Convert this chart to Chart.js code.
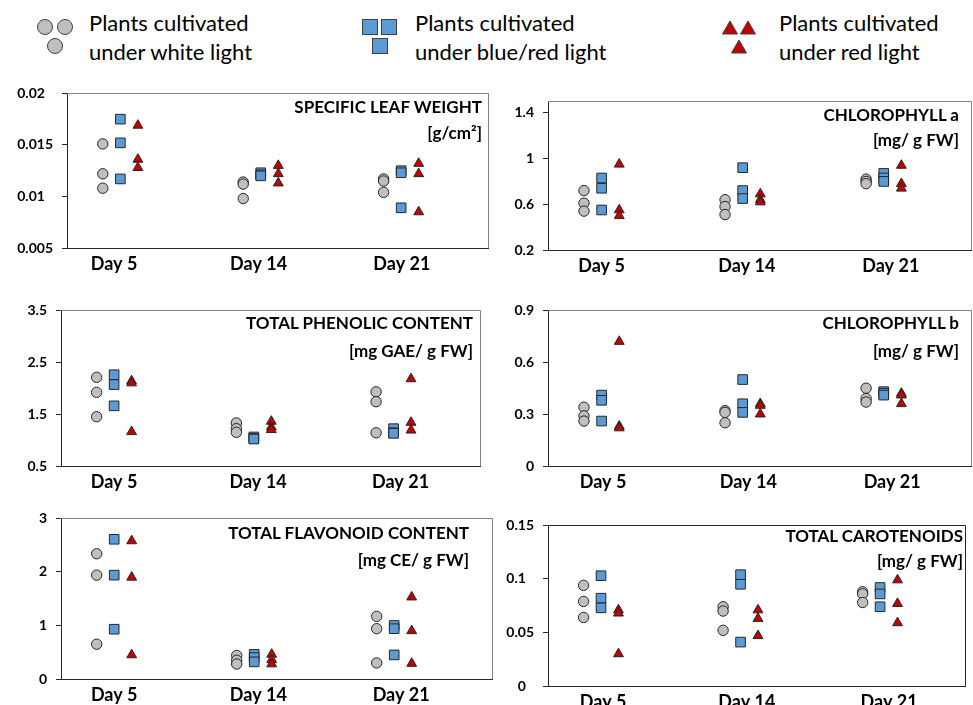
<!DOCTYPE html>
<html>
<head>
<meta charset="utf-8">
<script src="https://cdn.jsdelivr.net/npm/chart.js@4/dist/chart.umd.min.js"></script>
<style>
  html, body { margin: 0; padding: 0; background: #fff; }
  body { width: 973px; height: 705px; position: relative; overflow: hidden; font-family: Lato, "Open Sans", sans-serif; }
  canvas { position: absolute; }
  .ttl { position: absolute; font-weight: bold; font-size: 17px; line-height: 20px; color: #000; white-space: nowrap; text-align: right; }
  .leg { position: absolute; font-size: 22px; line-height: 28px; color: #000; white-space: nowrap; }
  svg.mk { position: absolute; left: 0; top: 0; }
</style>
</head>
<body>
<svg class="mk" width="973" height="70">
  <g stroke="#404040" stroke-width="1">
    <circle cx="45" cy="27" r="7.5" fill="#BFBFBF"/>
    <circle cx="65" cy="27" r="7.5" fill="#BFBFBF"/>
    <circle cx="55" cy="46" r="7.5" fill="#BFBFBF"/>
    <rect x="362.5" y="19.5" width="15" height="15" fill="#5B9BD5"/>
    <rect x="381.5" y="19.5" width="15" height="15" fill="#5B9BD5"/>
    <rect x="372.5" y="38.5" width="15" height="15" fill="#5B9BD5"/>
    <polygon points="730,21 737.5,34 722.5,34" fill="#C00000"/>
    <polygon points="748,21 755.5,34 740.5,34" fill="#C00000"/>
    <polygon points="739,40 746.5,53 731.5,53" fill="#C00000"/>
  </g>
</svg>
<div class="leg" style="left:89px;top:9px">Plants cultivated</div>
<div class="leg" style="left:89px;top:38px">under white light</div>
<div class="leg" style="left:415px;top:9px">Plants cultivated</div>
<div class="leg" style="left:415px;top:38px">under blue/red light</div>
<div class="leg" style="left:779px;top:9px">Plants cultivated</div>
<div class="leg" style="left:779px;top:38px">under red light</div>

<script>
// Sampling days shown on every panel
const days = ['Day 5', 'Day 14', 'Day 21'];
const seriesNames = [
  'Plants cultivated under white light',
  'Plants cultivated under blue/red light',
  'Plants cultivated under red light'
];

// Specific leaf weight [g/cm²] – three replicates per day
const slwWhite = [[0.0151, 0.0122, 0.0108], [0.0114, 0.0112, 0.0098], [0.0117, 0.0115, 0.0104]];
const slwBlue  = [[0.0175, 0.0152, 0.0117], [0.0123, 0.0121, 0.0120], [0.0125, 0.0123, 0.0089]];
const slwRed   = [[0.0169, 0.0136, 0.0128], [0.0130, 0.0122, 0.0113], [0.0132, 0.0122, 0.0085]];
const slwTicks = [0.005, 0.01, 0.015, 0.02];

// Chlorophyll a [mg/ g FW]
const chlaWhite = [[0.72, 0.61, 0.54], [0.64, 0.58, 0.51], [0.82, 0.80, 0.78]];
const chlaBlue  = [[0.83, 0.74, 0.55], [0.92, 0.72, 0.65], [0.87, 0.83, 0.80]];
const chlaRed   = [[0.95, 0.55, 0.50], [0.69, 0.64, 0.62], [0.94, 0.78, 0.74]];
const chlaTicks = [0.2, 0.6, 1, 1.4];

// Total phenolic content [mg GAE/ g FW]
const tpcWhite = [[2.21, 1.92, 1.45], [1.33, 1.22, 1.15], [1.93, 1.74, 1.14]];
const tpcBlue  = [[2.26, 2.07, 1.66], [1.06, 1.03, 1.02], [1.22, 1.14, 1.13]];
const tpcRed   = [[2.14, 2.10, 1.16], [1.36, 1.25, 1.20], [2.18, 1.34, 1.19]];
const tpcTicks = [0.5, 1.5, 2.5, 3.5];

// Chlorophyll b [mg/ g FW]
const chlbWhite = [[0.34, 0.29, 0.26], [0.32, 0.31, 0.25], [0.45, 0.39, 0.37]];
const chlbBlue  = [[0.41, 0.38, 0.26], [0.50, 0.36, 0.31], [0.43, 0.42, 0.41]];
const chlbRed   = [[0.72, 0.23, 0.22], [0.36, 0.35, 0.30], [0.42, 0.41, 0.36]];
const chlbTicks = [0, 0.3, 0.6, 0.9];

// Total flavonoid content [mg CE/ g FW]
const tfcWhite = [[2.34, 1.94, 0.65], [0.44, 0.35, 0.28], [1.17, 0.94, 0.30]];
const tfcBlue  = [[2.61, 1.94, 0.93], [0.46, 0.40, 0.32], [1.00, 0.94, 0.45]];
const tfcRed   = [[2.58, 1.90, 0.45], [0.46, 0.36, 0.28], [1.53, 0.90, 0.29]];
const tfcTicks = [0, 1, 2, 3];

// Total carotenoids [mg/ g FW]
const carWhite = [[0.094, 0.079, 0.064], [0.074, 0.070, 0.052], [0.088, 0.086, 0.078]];
const carBlue  = [[0.103, 0.082, 0.073], [0.104, 0.095, 0.041], [0.092, 0.086, 0.074]];
const carRed   = [[0.071, 0.068, 0.030], [0.071, 0.063, 0.047], [0.099, 0.077, 0.059]];
const carTicks = [0, 0.05, 0.1, 0.15];

// ---- presentation ----
const STYLE = [
  { pointStyle: 'circle',   radius: 5.2, bg: '#BFBFBF' },
  { pointStyle: 'rect',     radius: 6.8, bg: '#5B9BD5' },
  { pointStyle: 'triangle', radius: 5.7, bg: '#C00000' }
];
const X_OFFSET = [-0.125, 0, 0.125];   // side-by-side placement of the three light treatments
const LABEL_AT = [1.0, 2.03, 3.05];    // where the day labels sit on the x scale
const X_MIN = 0.62;
const AXIS = '#262626';

const panels = [
  { title: ['SPECIFIC LEAF WEIGHT', '[g/cm²]'], series: [slwWhite, slwBlue, slwRed], ticks: slwTicks,
    yMin: 0.005, yMax: 0.02, box: { l: 67, t: 86, r: 493, b: 248 }, xMax: 3.62, labelShift: -0.045,
    frame: '#808080', titleRight: 482, titleY: [107, 133] },
  { title: ['CHLOROPHYLL a', '[mg/ g FW]'], series: [chlaWhite, chlaBlue, chlaRed], ticks: chlaTicks,
    yMin: 0.2, yMax: 1.5, box: { l: 548, t: 94, r: 976, b: 250 }, xMax: 3.62, labelShift: 0,
    frame: '#808080', titleRight: 959, titleY: [115, 140] },
  { title: ['TOTAL PHENOLIC CONTENT', '[mg GAE/ g FW]'], series: [tpcWhite, tpcBlue, tpcRed], ticks: tpcTicks,
    yMin: 0.5, yMax: 3.5, box: { l: 61, t: 303, r: 485, b: 466 }, xMax: 3.62, labelShift: 0,
    frame: '#808080', titleRight: 473, titleY: [323, 351] },
  { title: ['CHLOROPHYLL b', '[mg/ g FW]'], series: [chlbWhite, chlbBlue, chlbRed], ticks: chlbTicks,
    yMin: 0, yMax: 0.9, box: { l: 548, t: 303, r: 976, b: 466 }, xMax: 3.62, labelShift: 0.01,
    frame: '#808080', titleRight: 959, titleY: [323, 351] },
  { title: ['TOTAL FLAVONOID CONTENT', '[mg CE/ g FW]'], series: [tfcWhite, tfcBlue, tfcRed], ticks: tfcTicks,
    yMin: 0, yMax: 3, box: { l: 61, t: 511, r: 497, b: 679 }, xMax: 3.70, labelShift: 0,
    frame: '#808080', titleRight: 469, titleY: [533, 560] },
  { title: ['TOTAL CAROTENOIDS', '[mg/ g FW]'], series: [carWhite, carBlue, carRed], ticks: carTicks,
    yMin: 0, yMax: 0.15, box: { l: 548, t: 518, r: 970, b: 686 }, xMax: 3.61, labelShift: 0.015,
    frame: AXIS, titleRight: 963, titleY: [536, 561] }
];

// Top and right edges of each plot frame
const framePlugin = {
  id: 'frame',
  beforeDatasetsDraw(chart, args, opts) {
    const { ctx, chartArea: a } = chart;
    ctx.save();
    ctx.strokeStyle = opts.color;
    ctx.lineWidth = 1;
    ctx.beginPath();
    ctx.moveTo(Math.round(a.left), Math.round(a.top) + 0.5);
    ctx.lineTo(Math.round(a.right) + 0.5, Math.round(a.top) + 0.5);
    ctx.lineTo(Math.round(a.right) + 0.5, Math.round(a.bottom));
    ctx.stroke();
    ctx.restore();
  }
};

// Number of decimals of a tick value, used to keep the decimal columns lined up
const decimals = v => (String(v).split('.')[1] || '').length;

Chart.defaults.font.family = 'Lato, "Open Sans", sans-serif';

const YW = 62, PT = 10, PR = 3, XH = 40;

panels.forEach(p => {
  const c = document.createElement('canvas');
  const w = p.box.r - p.box.l + YW + PR;
  const h = p.box.b - p.box.t + PT + XH;
  c.width = w; c.height = h;
  c.style.width = w + 'px'; c.style.height = h + 'px';
  c.style.left = (p.box.l - YW) + 'px';
  c.style.top = (p.box.t - PT) + 'px';
  document.body.appendChild(c);

  const maxDec = Math.max(...p.ticks.map(decimals));
  const yLabel = v => String(v) + (maxDec >= 2 && decimals(v) < maxDec ? '\u2007' : '');

  new Chart(c, {
    type: 'scatter',
    data: {
      datasets: p.series.map((vals, s) => ({
        label: seriesNames[s],
        data: vals.flatMap((reps, d) => reps.map(v => ({ x: d + 1 + X_OFFSET[s], y: v }))),
        pointStyle: STYLE[s].pointStyle,
        pointRadius: STYLE[s].radius,
        pointHoverRadius: STYLE[s].radius,
        pointBackgroundColor: STYLE[s].bg,
        pointBorderColor: AXIS,
        pointBorderWidth: 1,
        clip: false
      }))
    },
    options: {
      responsive: false,
      animation: false,
      devicePixelRatio: 1,
      events: [],
      layout: { padding: { top: PT, right: PR, left: 0, bottom: 0 } },
      plugins: { legend: { display: false }, tooltip: { enabled: false }, frame: { color: p.frame } },
      scales: {
        x: {
          type: 'linear', min: X_MIN, max: p.xMax,
          afterBuildTicks: s => { s.ticks = LABEL_AT.map(v => ({ value: v + p.labelShift })); },
          afterFit: s => { s.height = XH; },
          grid: { display: false, drawTicks: false },
          border: { display: true, color: AXIS, width: 1 },
          ticks: { callback: (v, i) => days[i], font: { weight: 'bold', size: 18 }, color: '#000',
                   padding: 5, maxRotation: 0, autoSkip: false }
        },
        y: {
          min: p.yMin, max: p.yMax,
          afterBuildTicks: s => { s.ticks = p.ticks.map(v => ({ value: v })); },
          afterFit: s => { s.width = YW; },
          grid: { display: true, drawOnChartArea: false, drawTicks: true, tickLength: 5, color: AXIS },
          border: { display: true, color: AXIS, width: 1 },
          ticks: { callback: yLabel, font: { weight: 'bold', size: 14 }, color: '#000', padding: 9 }
        }
      }
    },
    plugins: [framePlugin]
  });

  // Panel heading, right-aligned inside the frame
  p.title.forEach((line, k) => {
    const d = document.createElement('div');
    d.className = 'ttl';
    d.textContent = line;
    d.style.right = (973 - p.titleRight) + 'px';
    d.style.top = (p.titleY[k] - 10.5) + 'px';
    document.body.appendChild(d);
  });
});
</script>
</body>
</html>
